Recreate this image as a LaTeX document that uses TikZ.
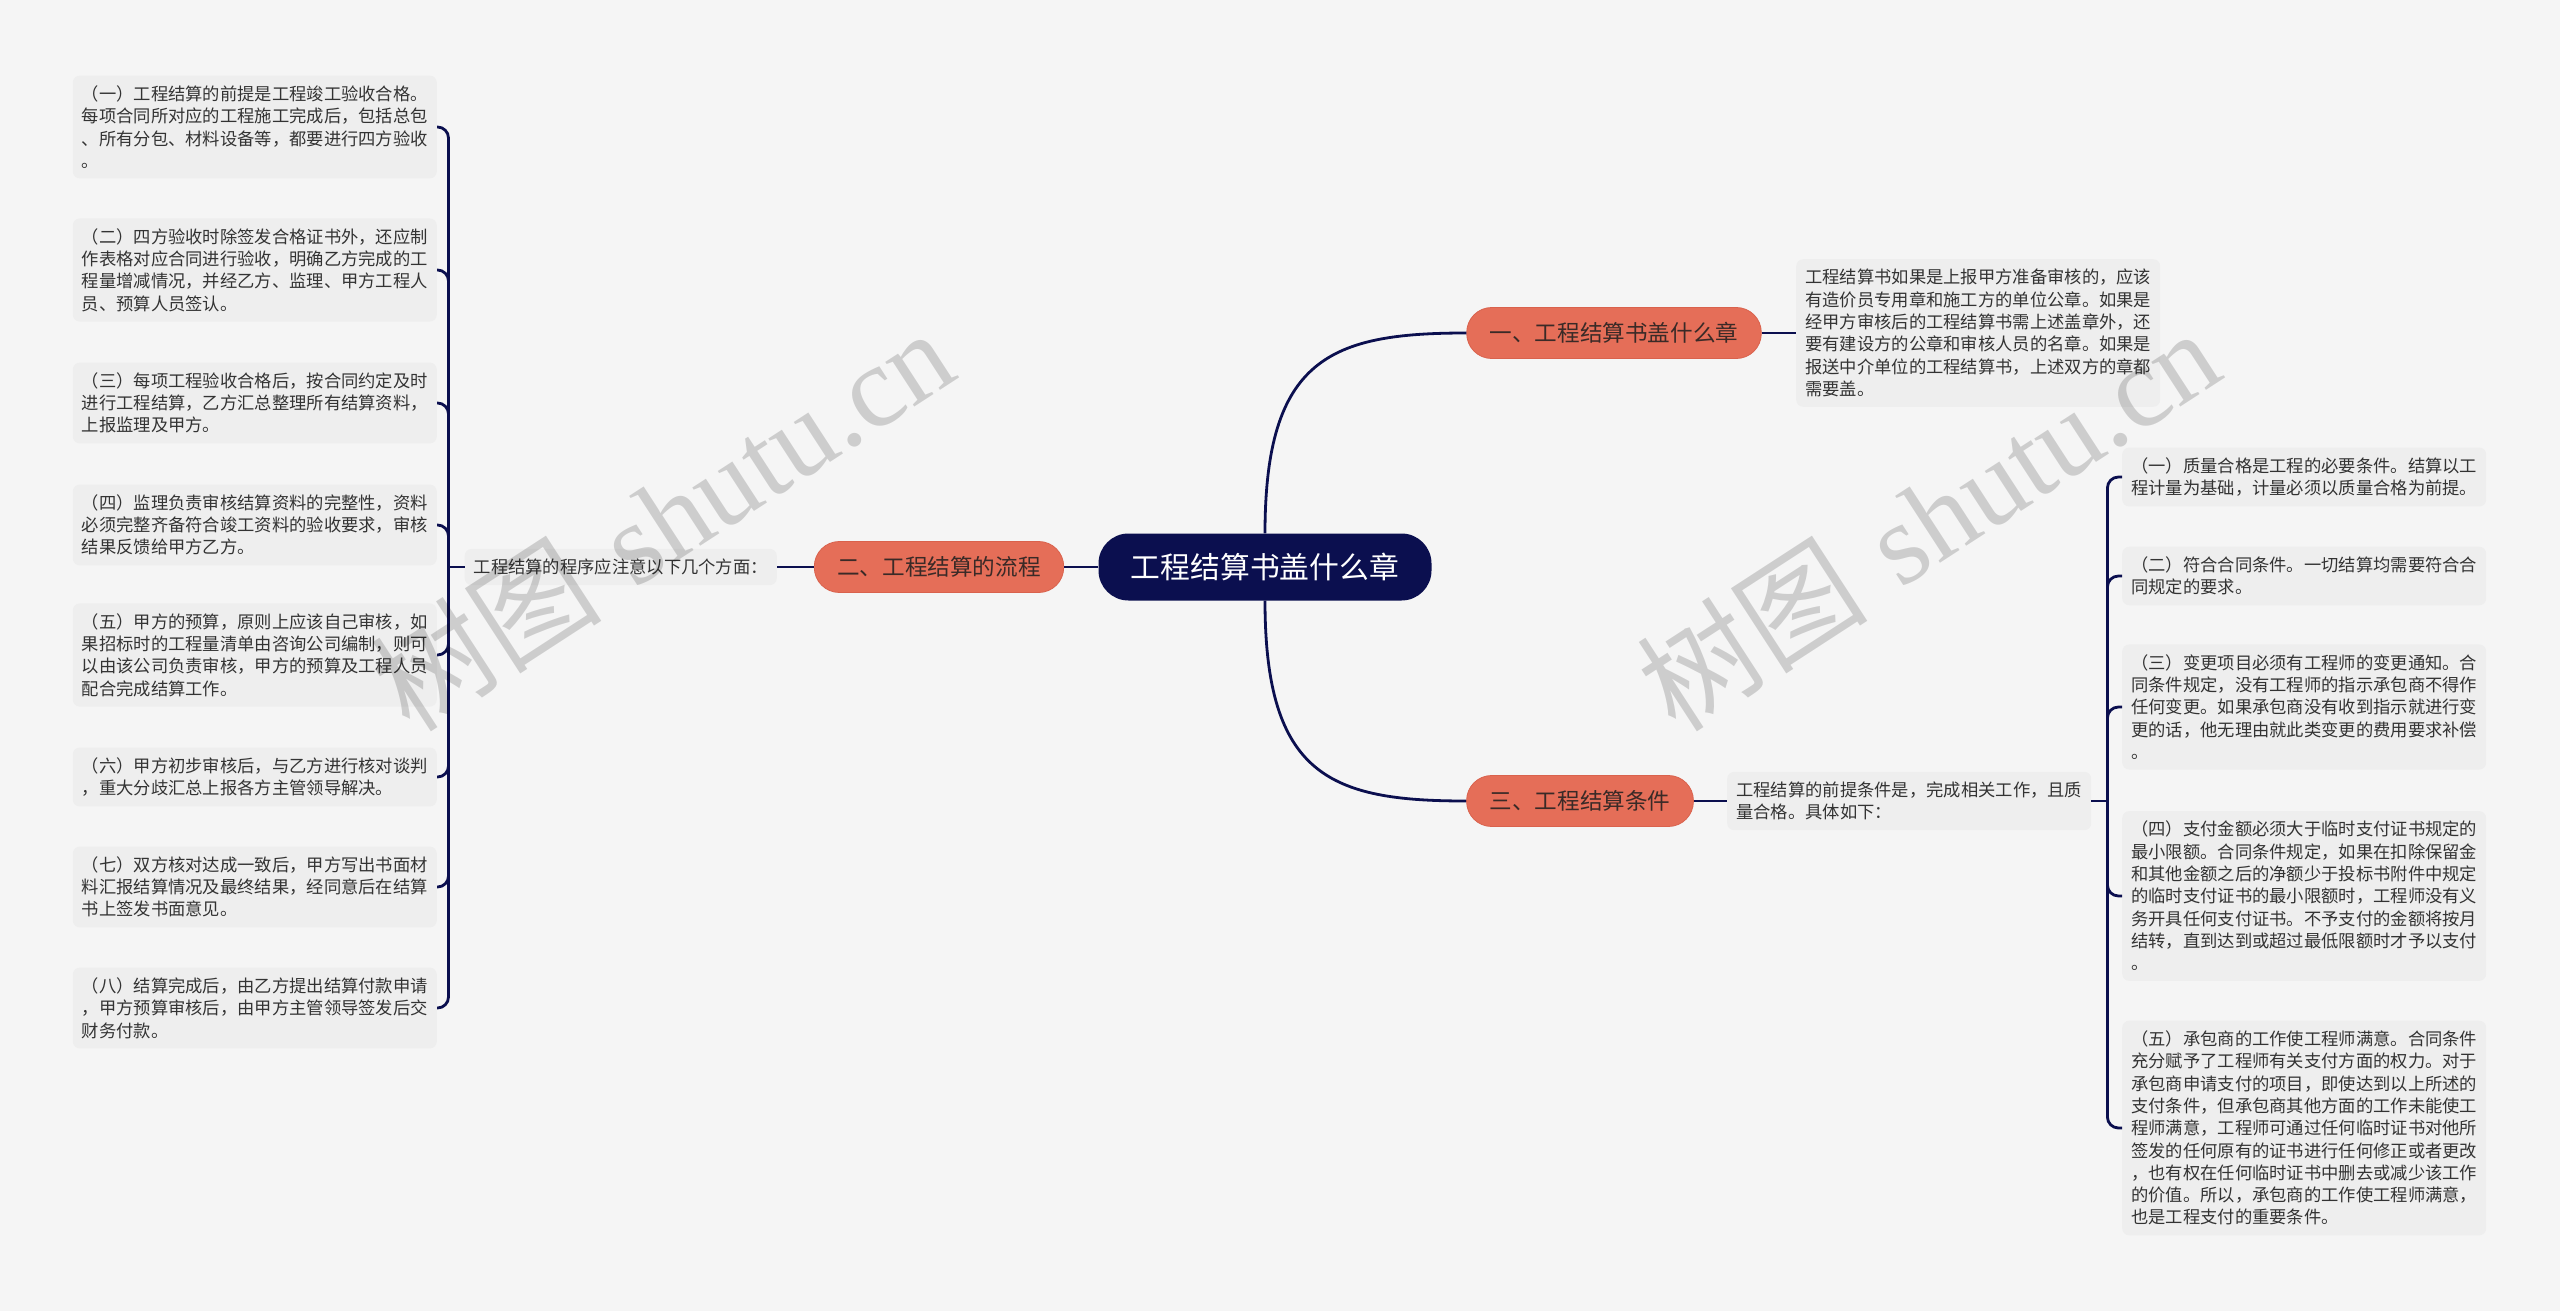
\documentclass[tikz,border=0pt]{standalone}
\usepackage{fontspec}
\usepackage{tikz}
\newfontfamily\cjk{Noto Sans CJK SC}
\newfontfamily\wmlatin{Liberation Serif}
\definecolor{bggray}{HTML}{F5F5F5}
\definecolor{notegray}{HTML}{EEEEEE}
\definecolor{inkgray}{HTML}{333333}
\definecolor{linknavy}{HTML}{0B0F4F}
\definecolor{salmon}{HTML}{E56E58}
\definecolor{salmondark}{HTML}{D9624D}
\definecolor{topictext}{HTML}{3A2A27}
\tikzstyle{rootnode} = [fill=linknavy, text=white, rounded corners=30pt, minimum width=333pt, minimum height=67pt, font=\cjk\fontsize{29.8}{34}\selectfont]
\tikzstyle{topic} = [fill=salmon, draw=salmondark, line width=0.8pt, text=topictext, rounded corners=25pt, minimum height=51pt, inner xsep=23pt, font=\cjk\fontsize{22.6}{27}\selectfont]
\tikzstyle{notebox} = [fill=notegray, text=inkgray, rounded corners=7pt, align=left, inner xsep=9pt, inner ysep=10pt, font=\cjk\fontsize{17.3}{22.3}\selectfont]
\tikzstyle{link} = [draw=linknavy, line width=2.8pt]
\tikzstyle{bracket} = [link, rounded corners=11pt]
\tikzstyle{watermark} = [text=black, opacity=0.16, rotate=33, font=\fontsize{116}{120}\selectfont]

\begin{document}
\begin{tikzpicture}[x=1pt, y=-1pt]
\fill[bggray] (0, 0) rectangle (2560, 1311);

%% root and topics
\node[rootnode] (root) at (1265, 567) {工程结算书盖什么章};
\node[topic] (b1) at (1614, 333) {一、工程结算书盖什么章};
\node[topic] (b2) at (939, 567) {二、工程结算的流程};
\node[topic] (b3) at (1580, 801) {三、工程结算条件};

%% left: procedure
\node[notebox, anchor=east] (lmid) at (777, 567) {工程结算的程序应注意以下几个方面：};
\node[notebox, anchor=east] (l1) at (437, 127) {%
（一）工程结算的前提是工程竣工验收合格。\\
每项合同所对应的工程施工完成后，包括总包\\
、所有分包、材料设备等，都要进行四方验收\\
。};
\node[notebox, anchor=east] (l2) at (437, 270) {%
（二）四方验收时除签发合格证书外，还应制\\
作表格对应合同进行验收，明确乙方完成的工\\
程量增减情况，并经乙方、监理、甲方工程人\\
员、预算人员签认。};
\node[notebox, anchor=east] (l3) at (437, 403) {%
（三）每项工程验收合格后，按合同约定及时\\
进行工程结算，乙方汇总整理所有结算资料，\\
上报监理及甲方。};
\node[notebox, anchor=east] (l4) at (437, 525) {%
（四）监理负责审核结算资料的完整性，资料\\
必须完整齐备符合竣工资料的验收要求，审核\\
结果反馈给甲方乙方。};
\node[notebox, anchor=east] (l5) at (437, 655) {%
（五）甲方的预算，原则上应该自己审核，如\\
果招标时的工程量清单由咨询公司编制，则可\\
以由该公司负责审核，甲方的预算及工程人员\\
配合完成结算工作。};
\node[notebox, anchor=east] (l6) at (437, 777) {%
（六）甲方初步审核后，与乙方进行核对谈判\\
，重大分歧汇总上报各方主管领导解决。};
\node[notebox, anchor=east] (l7) at (437, 887) {%
（七）双方核对达成一致后，甲方写出书面材\\
料汇报结算情况及最终结果，经同意后在结算\\
书上签发书面意见。};
\node[notebox, anchor=east] (l8) at (437, 1008) {%
（八）结算完成后，由乙方提出结算付款申请\\
，甲方预算审核后，由甲方主管领导签发后交\\
财务付款。};

%% right: seals
\node[notebox, anchor=west] (desc1) at (1796, 333) {%
工程结算书如果是上报甲方准备审核的，应该\\
有造价员专用章和施工方的单位公章。如果是\\
经甲方审核后的工程结算书需上述盖章外，还\\
要有建设方的公章和审核人员的名章。如果是\\
报送中介单位的工程结算书，上述双方的章都\\
需要盖。};

%% right: conditions
\node[notebox, anchor=west] (cdesc) at (1727, 801) {%
工程结算的前提条件是，完成相关工作，且质\\
量合格。具体如下：};
\node[notebox, anchor=west] (r1) at (2122, 477) {%
（一）质量合格是工程的必要条件。结算以工\\
程计量为基础，计量必须以质量合格为前提。};
\node[notebox, anchor=west] (r2) at (2122, 576) {%
（二）符合合同条件。一切结算均需要符合合\\
同规定的要求。};
\node[notebox, anchor=west] (r3) at (2122, 707) {%
（三）变更项目必须有工程师的变更通知。合\\
同条件规定，没有工程师的指示承包商不得作\\
任何变更。如果承包商没有收到指示就进行变\\
更的话，他无理由就此类变更的费用要求补偿\\
。};
\node[notebox, anchor=west] (r4) at (2122, 896) {%
（四）支付金额必须大于临时支付证书规定的\\
最小限额。合同条件规定，如果在扣除保留金\\
和其他金额之后的净额少于投标书附件中规定\\
的临时支付证书的最小限额时，工程师没有义\\
务开具任何支付证书。不予支付的金额将按月\\
结转，直到达到或超过最低限额时才予以支付\\
。};
\node[notebox, anchor=west] (r5) at (2122, 1128) {%
（五）承包商的工作使工程师满意。合同条件\\
充分赋予了工程师有关支付方面的权力。对于\\
承包商申请支付的项目，即使达到以上所述的\\
支付条件，但承包商其他方面的工作未能使工\\
程师满意，工程师可通过任何临时证书对他所\\
签发的任何原有的证书进行任何修正或者更改\\
，也有权在任何临时证书中删去或减少该工作\\
的价值。所以，承包商的工作使工程师满意，\\
也是工程支付的重要条件。};

%% connectors
\draw[link] (root.west) -- (b2.east);
\draw[link] (root.north) .. controls +(0, -175) and +(-136, 0) .. (b1.west);
\draw[link] (root.south) .. controls +(0, 175) and +(-136, 0) .. (b3.west);
\draw[link] (b1.east) -- (desc1.west);
\draw[link] (b2.west) -- (lmid.east);
\draw[link] (b3.east) -- (cdesc.west);

\coordinate (ljoin) at ([xshift=-16pt]lmid.west);
\draw[link] (lmid.west) -- (ljoin);
\foreach \i in {1,...,8}
  \draw[bracket] (ljoin) |- (l\i.east);

\coordinate (rjoin) at ([xshift=16pt]cdesc.east);
\draw[link] (cdesc.east) -- (rjoin);
\foreach \i in {1,...,5}
  \draw[bracket] (rjoin) |- (r\i.west);

%% watermarks
\node[watermark] (wm1) at (662, 519) {{\cjk 树图} {\wmlatin shutu.cn}};
\node[watermark] (wm2) at (1928, 519) {{\cjk 树图} {\wmlatin shutu.cn}};
\end{tikzpicture}
\end{document}
